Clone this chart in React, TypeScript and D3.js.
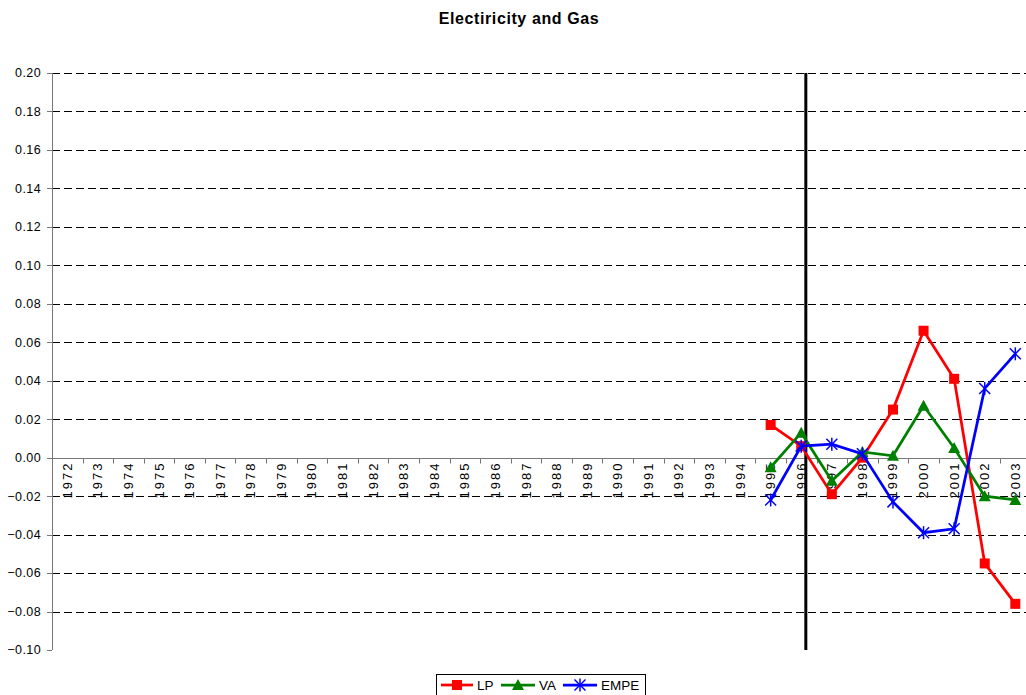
import React from "react";
import * as d3 from "d3";

const years: string[] = [
  "1972","1973","1974","1975","1976","1977","1978","1979","1980","1981","1982",
  "1983","1984","1985","1986","1987","1988","1989","1990","1991","1992","1993",
  "1994","1995","1996","1997","1998","1999","2000","2001","2002","2003",
];
const dataYears: string[] = ["1995","1996","1997","1998","1999","2000","2001","2002","2003"];
const lpValues: number[] = [0.017, 0.006, -0.019, 0.0, 0.025, 0.066, 0.041, -0.055, -0.076];
const vaValues: number[] = [-0.005, 0.013, -0.012, 0.003, 0.001, 0.027, 0.005, -0.020, -0.022];
const empeValues: number[] = [-0.022, 0.006, 0.007, 0.002, -0.023, -0.039, -0.037, 0.036, 0.054];
const yTicks: number[] = [0.2, 0.18, 0.16, 0.14, 0.12, 0.1, 0.08, 0.06, 0.04, 0.02, 0.0, -0.02, -0.04, -0.06, -0.08, -0.1];
const breakYear = "1996";

const W = 1026, H = 695;
const left = 52, right = 1030.6, top = 73, bottom = 650;

type Series = { name: string; values: number[]; color: string; marker: "square" | "triangle" | "star" };
const series: Series[] = [
  { name: "LP", values: lpValues, color: "#ff0000", marker: "square" },
  { name: "VA", values: vaValues, color: "#008000", marker: "triangle" },
  { name: "EMPE", values: empeValues, color: "#0000ff", marker: "star" },
];

function Marker({ type, x, y, color }: { type: string; x: number; y: number; color: string }) {
  if (type === "square") return <rect x={x - 5} y={y - 5} width={10} height={10} fill={color} />;
  if (type === "triangle")
    return <path d={`M${x},${y - 6}L${x + 6},${y + 5}L${x - 6},${y + 5}Z`} fill={color} />;
  const r = 5.5;
  return (
    <g stroke={color} strokeWidth={1.5}>
      <line x1={x - r} y1={y - r} x2={x + r} y2={y + r} />
      <line x1={x - r} y1={y + r} x2={x + r} y2={y - r} />
      <line x1={x} y1={y - r - 1} x2={x} y2={y + r + 1} />
    </g>
  );
}

export default function App() {
  const x = d3.scaleBand<string>().domain(years).range([left, right]).padding(0);
  const y = d3.scaleLinear().domain([-0.1, 0.2]).range([bottom, top]);
  const cx = (yr: string) => (x(yr) as number) + x.bandwidth() / 2;
  const y0 = Math.round(y(0)) + 0.5;
  const fmt = d3.format(".2f");
  const line = d3
    .line<[string, number]>()
    .x((d) => cx(d[0]))
    .y((d) => y(d[1]));
  const breakX = (x(breakYear) as number) + x.bandwidth() * 0.65;

  return (
    <svg width={W} height={H} style={{ position: "absolute", left: 0, top: 0 }} fontFamily="'Liberation Sans', Arial, sans-serif">
      <rect width={W} height={H} fill="#fff" />
      <text x={519} y={24} textAnchor="middle" fontSize={16} fontWeight="bold" letterSpacing={0.6}>
        Electiricity and Gas
      </text>
      {/* gridlines */}
      {yTicks.filter((t) => Math.abs(t) > 1e-9 && t > -0.099).map((t) => (
        <line key={"g" + t} x1={left} x2={W} y1={Math.round(y(t)) + 0.5} y2={Math.round(y(t)) + 0.5}
          stroke="#000" strokeWidth={1} strokeDasharray="8,4" />
      ))}
      {/* y axis */}
      <line x1={left + 0.5} x2={left + 0.5} y1={top} y2={bottom} stroke="#777" />
      {yTicks.map((t) => (
        <g key={"t" + t}>
          <line x1={left - 5} x2={left} y1={Math.round(y(t)) + 0.5} y2={Math.round(y(t)) + 0.5} stroke="#777" />
          <text x={left - 11} y={y(t)} dy="0.35em" textAnchor="end" fontSize={12.5} letterSpacing={0.4} fill="#000">
            {fmt(t)}
          </text>
        </g>
      ))}
      {/* x axis */}
      <line x1={left} x2={W} y1={y0} y2={y0} stroke="#777" />
      {years.map((yr) => (
        <line key={"xt" + yr} x1={Math.round(x(yr) as number) + 0.5} x2={Math.round(x(yr) as number) + 0.5}
          y1={y0} y2={y0 + 5} stroke="#777" />
      ))}
      {years.map((yr) => (
        <text key={"xl" + yr} transform={`translate(${cx(yr) + 4.5},${y0 + 3}) rotate(-90)`}
          textAnchor="end" fontSize={13} letterSpacing={2} fill="#000">
          {yr}
        </text>
      ))}
      {/* break line */}
      <line x1={breakX} x2={breakX} y1={top} y2={bottom} stroke="#000" strokeWidth={3} />
      {/* series */}
      {series.map((s) => {
        const pts: [string, number][] = dataYears.map((yr, i) => [yr, s.values[i]]);
        return (
          <g key={s.name}>
            <path d={line(pts) || ""} fill="none" stroke={s.color} strokeWidth={2.75} />
            {pts.map((p) => (
              <Marker key={p[0]} type={s.marker} x={cx(p[0])} y={y(p[1])} color={s.color} />
            ))}
          </g>
        );
      })}
      {/* legend */}
      <rect x={436.5} y={674.5} width={209} height={30} fill="#fff" stroke="#000" />
      {series.map((s, i) => {
        const lx = [441, 501, 563][i];
        const lw = [32, 34, 34][i];
        return (
          <g key={"lg" + s.name}>
            <line x1={lx} x2={lx + lw} y1={685} y2={685} stroke={s.color} strokeWidth={2.75} />
            <Marker type={s.marker} x={lx + lw / 2} y={685} color={s.color} />
            <text x={lx + lw + 4} y={690} fontSize={13.5} fill="#000">{s.name}</text>
          </g>
        );
      })}
    </svg>
  );
}
